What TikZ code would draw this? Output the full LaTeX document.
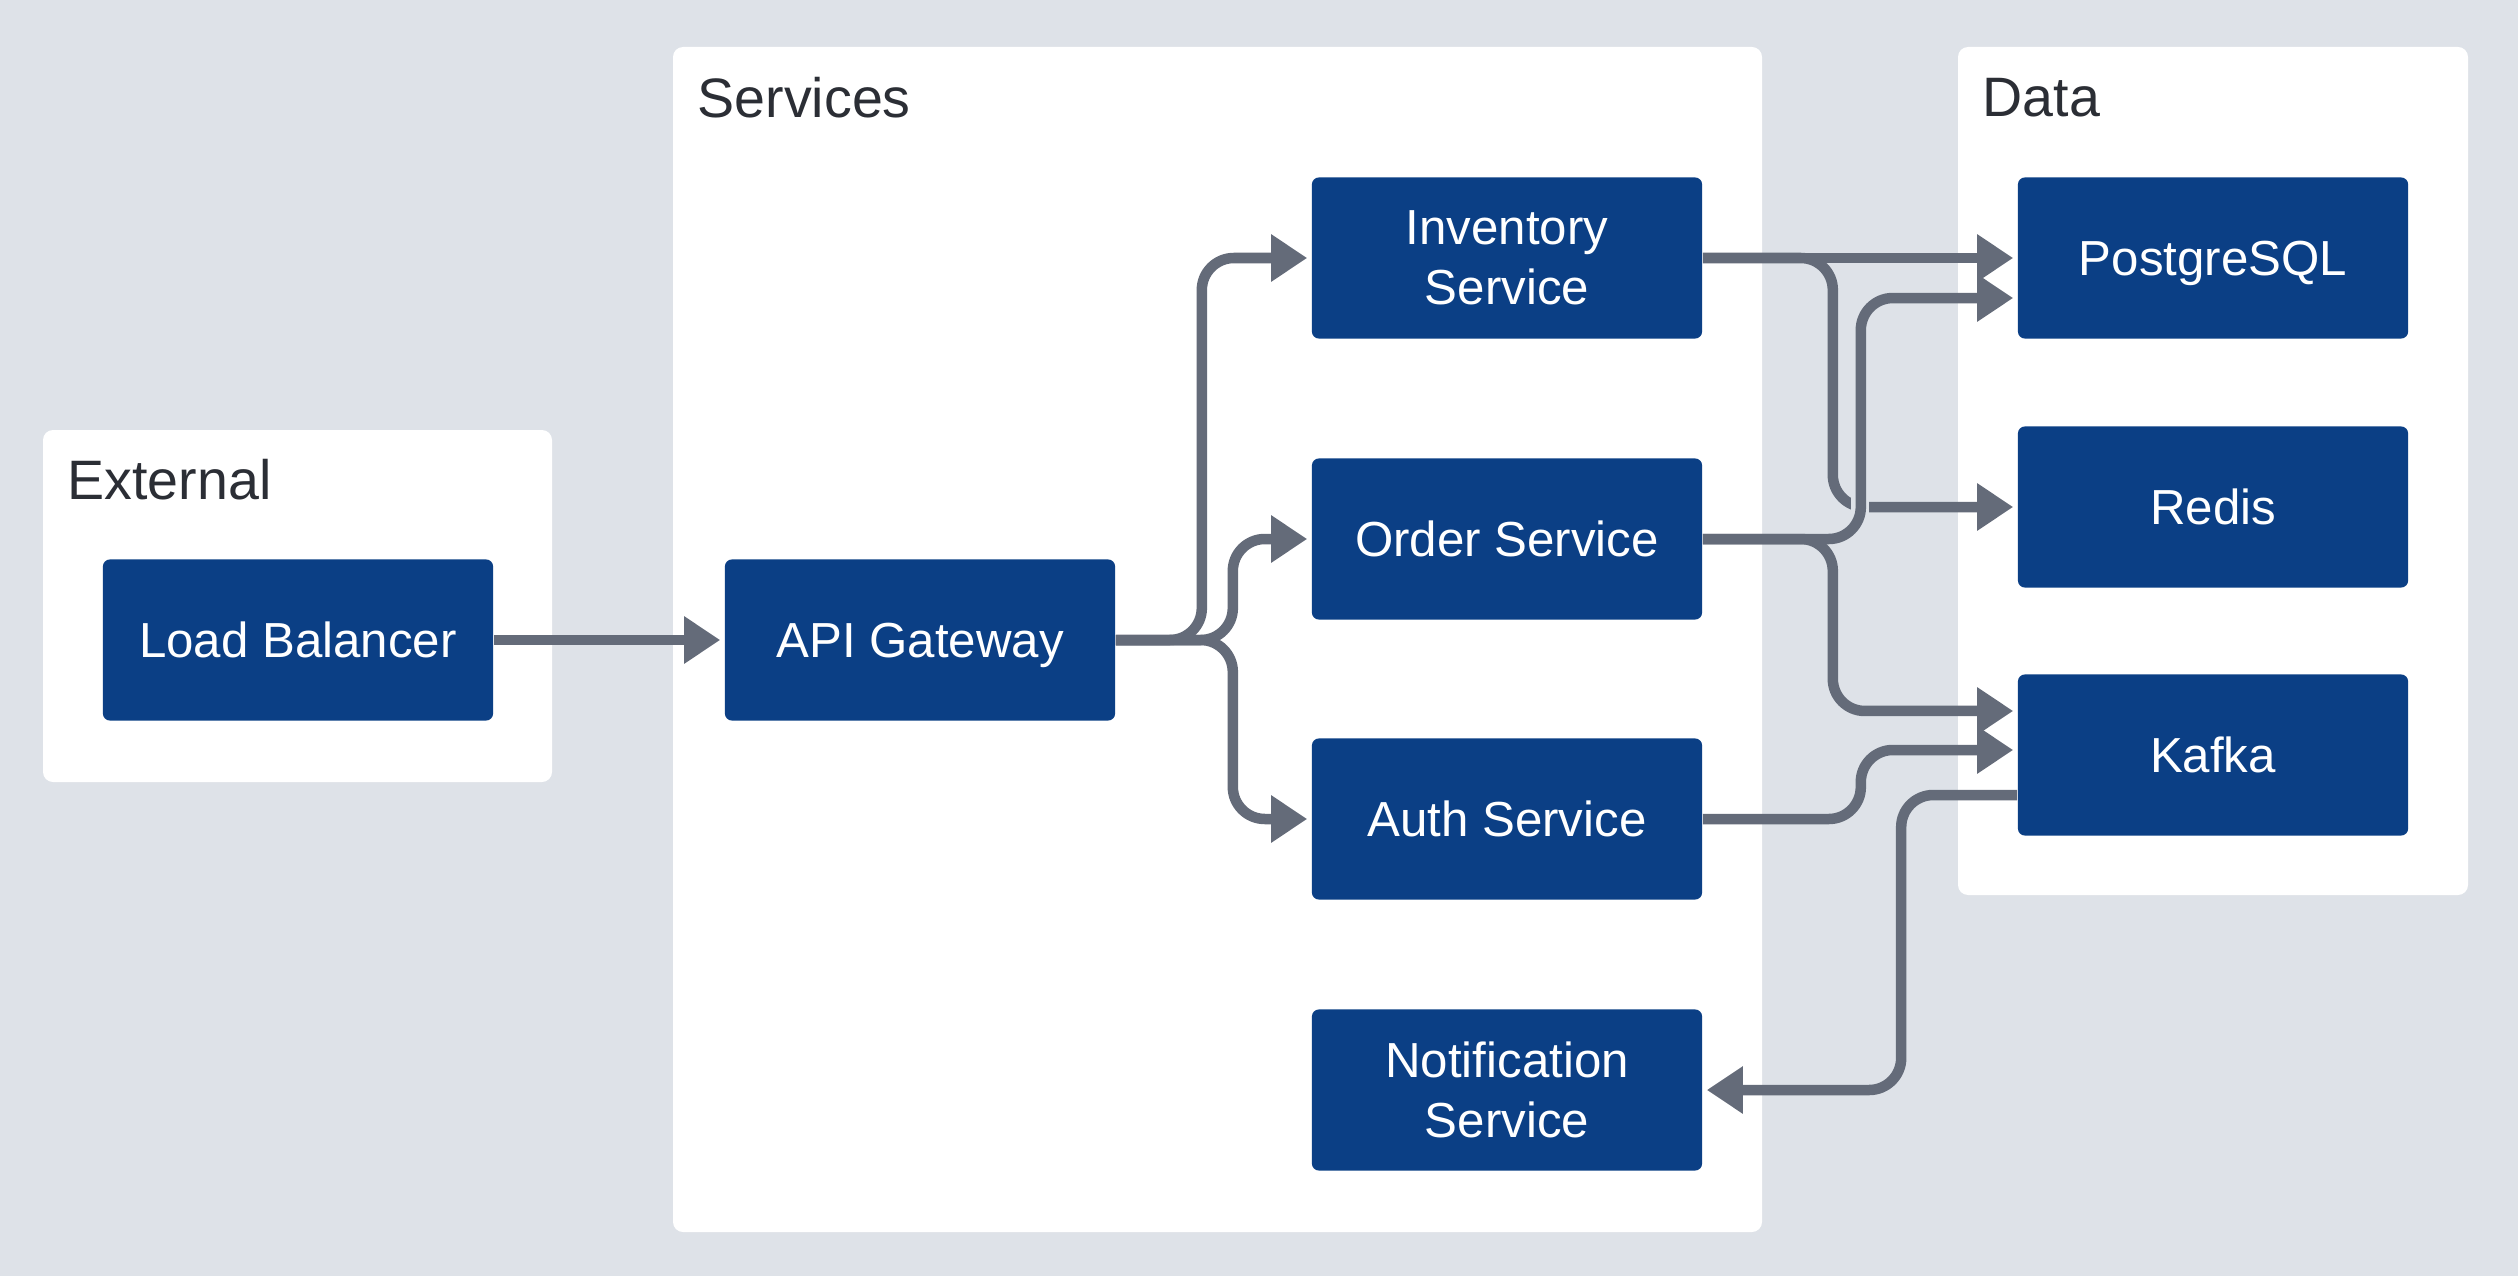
\documentclass[tikz,border=0pt]{standalone}
\usepackage{fontspec}
\setmainfont{Liberation Sans}
\usetikzlibrary{arrows.meta,calc}
\definecolor{bgc}{HTML}{DEE2E8}
\definecolor{nodeblue}{HTML}{0B3F85}
\definecolor{linec}{HTML}{646B79}
\definecolor{titlec}{HTML}{2B2E35}
\begin{document}
\begin{tikzpicture}[x=0.01cm,y=-0.01cm,
  svc/.style={fill=nodeblue, rounded corners=0.07cm, minimum width=3.9cm, minimum height=1.61cm,
    text=white, font=\fontsize{14}{17}\selectfont, align=center, inner sep=0pt},
  one/.style={text height=0.45cm, text depth=0.1cm},
  grp/.style={fill=white, rounded corners=0.1cm},
  ttl/.style={text=titlec, font=\fontsize{15.8}{19}\selectfont, anchor=west, inner sep=0pt},
  conn/.style={draw=linec, line width=0.105cm, rounded corners=0.32cm,
    -{Triangle[length=0.36cm,width=0.45cm]}, shorten >=0.04cm}]
% background / bounding box
\fill[bgc] (0,0) rectangle (2518,1276);
% groups
\path[grp] (43,430) rectangle (552,782);
\path[grp] (673,47) rectangle (1762,1232);
\path[grp] (1958,47) rectangle (2468,895);
\node[ttl] (text-ext) at (67,480) {External};
\node[ttl] (text-svc) at (697,98) {Services};
\node[ttl] (text-data) at (1982,98) {Data};
% nodes
\node[svc,one] (lb) at (298,640) {Load Balancer};
\node[svc,one] (api) at (920,640) {API Gateway};
\node[svc] (inv) at (1507,258) {Inventory\\Service};
\node[svc,one] (order) at (1507,539) {Order Service};
\node[svc,one] (auth) at (1507,819) {Auth Service};
\node[svc] (notif) at (1507,1090) {Notification\\Service};
\node[svc,one] (pg) at (2213,258) {PostgreSQL};
\node[svc,one] (redis) at (2213,507) {Redis};
\node[svc,one] (kafka) at (2213,755) {Kafka};
% connectors
\draw[conn] (lb) -- (api);
\draw[conn] (api.east) -- ++(86,0) |- (inv.west);
\draw[conn] (api.east) -- ++(117,0) |- (order.west);
\draw[conn] (api.east) -- ++(117,0) |- (auth.west);
\draw[conn] (inv.east) -- (pg.west);
\draw[conn] (inv.east) -- ++(130,0) |- (redis.west);
\coordinate (hop) at (1860,507);
\fill[bgc] ($(hop)+(-9,-16)$) rectangle ($(hop)+(9,16)$);
\draw[conn] (order.east) -- ++(158,0) |- ([yshift=-0.4cm]pg.west);
\draw[conn] (order.east) -- ++(130,0) |- ([yshift=0.44cm]kafka.west);
\draw[conn] (auth.east) -- ++(158,0) |- ([yshift=0.05cm]kafka.west);
\draw[conn] ([yshift=-0.4cm]kafka.west) -- ++(-116,0) |- (notif.east);
\end{tikzpicture}
\end{document}
